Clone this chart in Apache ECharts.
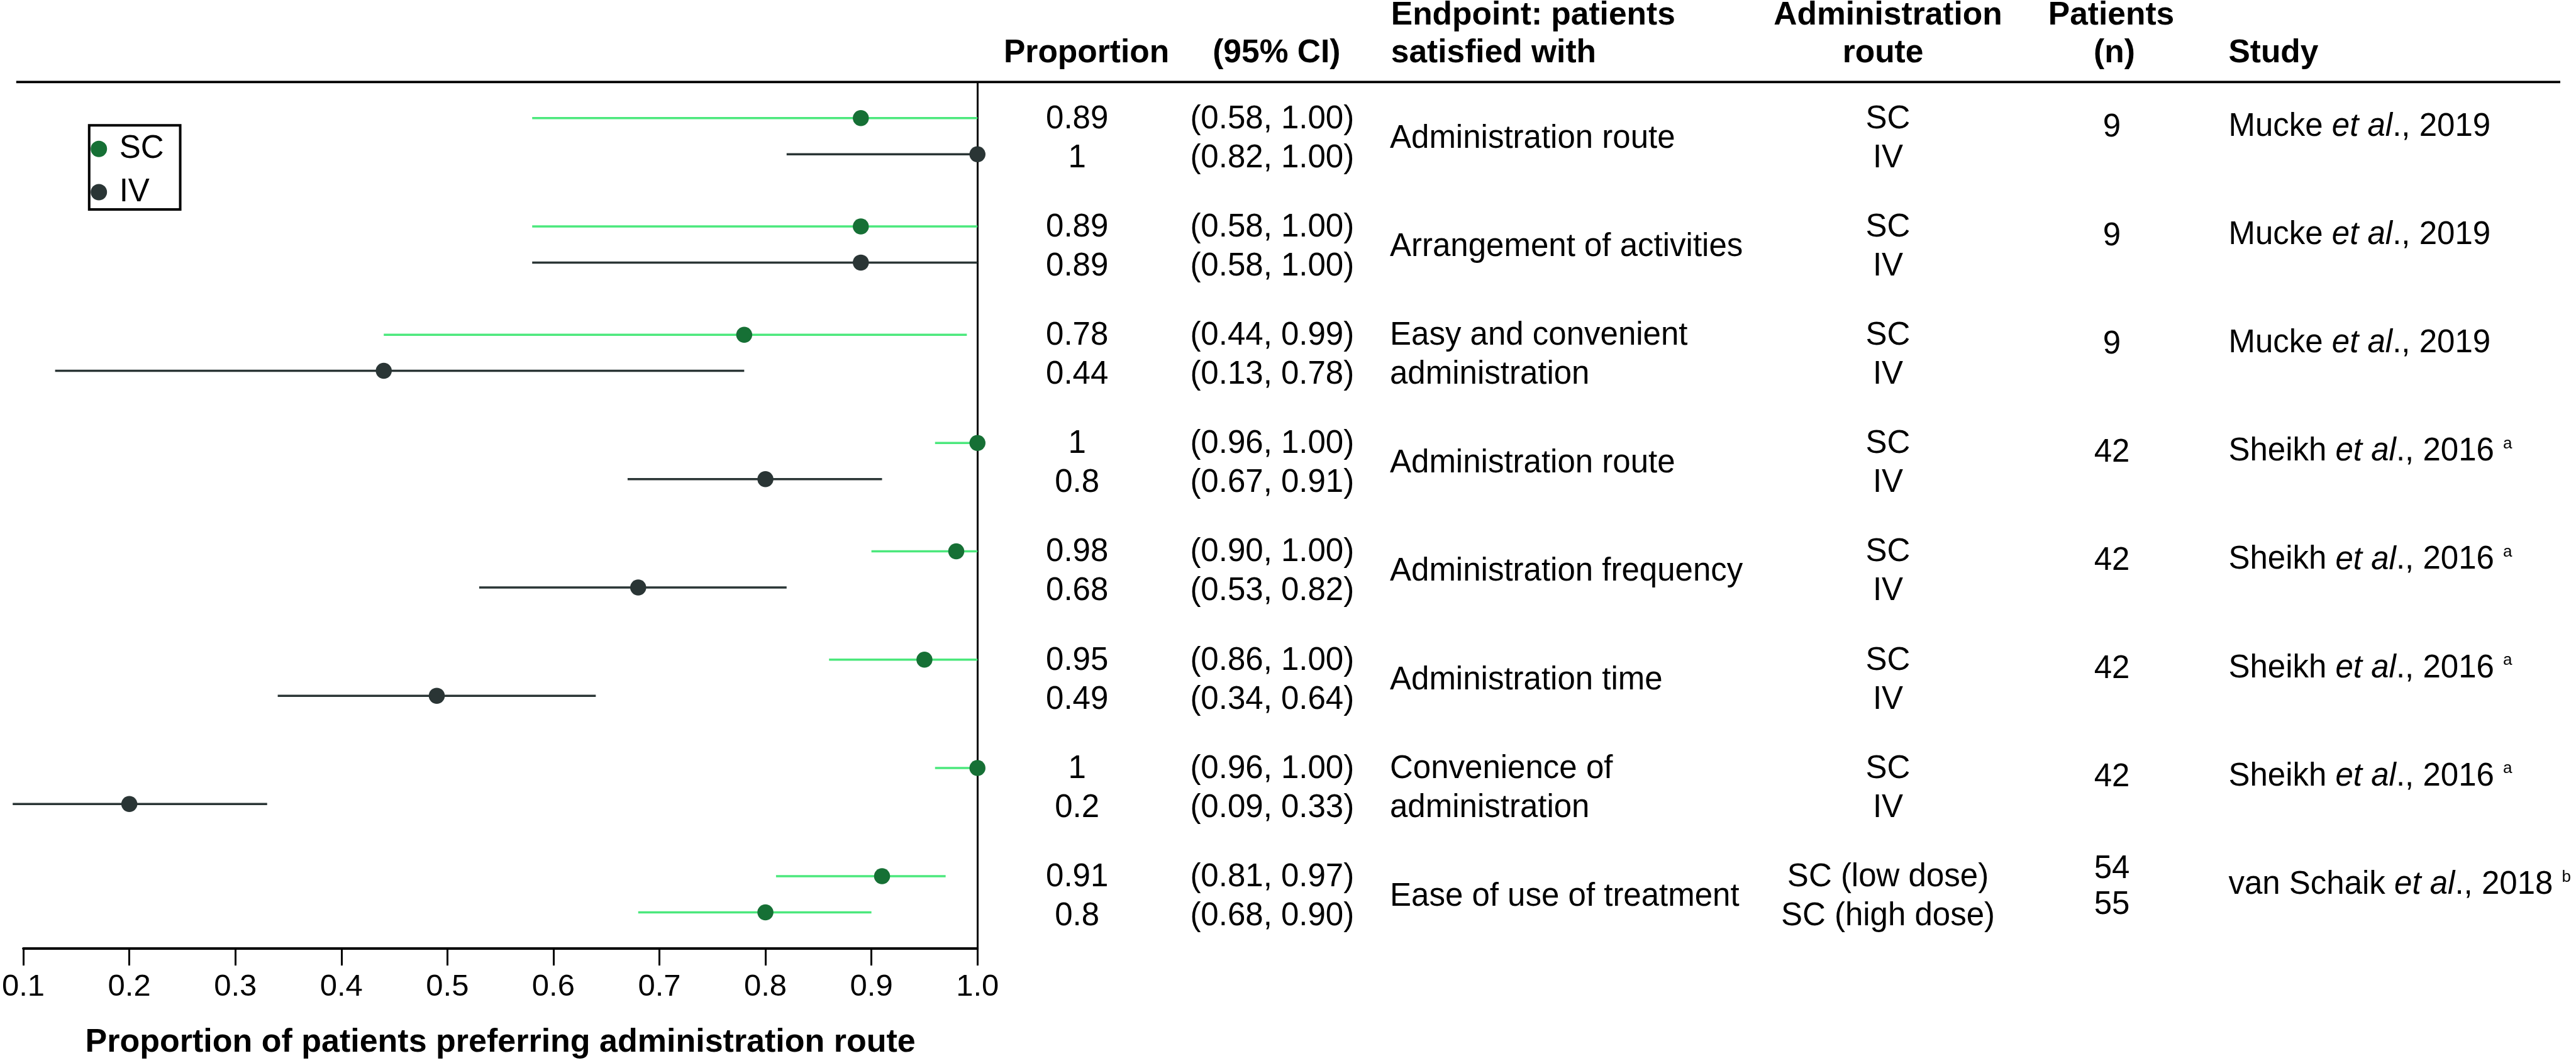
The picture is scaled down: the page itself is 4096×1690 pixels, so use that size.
<!DOCTYPE html>
<html><head><meta charset="utf-8">
<script src="https://cdn.jsdelivr.net/npm/echarts/dist/echarts.min.js"></script>
<style>html,body{margin:0;padding:0;background:#fff}#c{width:4096px;height:1690px}</style>
</head><body><div id="c"></div>
<script>
// ---------------- DATA ----------------
const endpoints = ['Administration route', 'Arrangement of activities', 'Easy and convenient\nadministration',
  'Administration route', 'Administration frequency', 'Administration time', 'Convenience of\nadministration',
  'Ease of use of treatment'];
const rowGroup = [0,0,1,1,2,2,3,3,4,4,5,5,6,6,7,7];
const rowSub   = [0,1,0,1,0,1,0,1,0,1,0,1,0,1,0,1];
const rowArm   = ['SC','IV','SC','IV','SC','IV','SC','IV','SC','IV','SC','IV','SC','IV','SC','SC'];
const rowRoute = ['SC','IV','SC','IV','SC','IV','SC','IV','SC','IV','SC','IV','SC','IV','SC (low dose)','SC (high dose)'];
const rowProp  = [0.89,1,0.89,0.89,0.78,0.44,1,0.8,0.98,0.68,0.95,0.49,1,0.2,0.91,0.8];
const rowLow   = [0.58,0.82,0.58,0.58,0.44,0.13,0.96,0.67,0.90,0.53,0.86,0.34,0.96,0.09,0.81,0.68];
const rowHigh  = [1.00,1.00,1.00,1.00,0.99,0.78,1.00,0.91,1.00,0.82,1.00,0.64,1.00,0.33,0.97,0.90];
const patients = [['9'],['9'],['9'],['42'],['42'],['42'],['42'],['54','55']];
const studyAuthor = ['Mucke','Mucke','Mucke','Sheikh','Sheikh','Sheikh','Sheikh','van Schaik'];
const studyYear = ['2019','2019','2019','2016','2016','2016','2016','2018'];
const studyNote = ['','','','a','a','a','a','b'];
const headerText = ['Proportion','(95% CI)','Endpoint: patients','satisfied with','Administration','route','Patients','(n)','Study'];
const armNames = ['SC','IV'];
const axisTitle = 'Proportion of patients preferring administration route';

// ---------------- LAYOUT / STYLE ----------------
const FONT = '"Liberation Sans", Arial, Helvetica, sans-serif';
const W = 4096, H = 1690;
const G_TOP = 130.4, G_BOT = 1507.9, X_L = 36.7, X_R = 1554.2;
const COL = {prop:1712.7, ci:2022.8, end:2210, route:3002, pat:3358, study:3543.4};
const headerPos = [[1727.6,85,'center'],[2029.8,85,'center'],[2211.8,25,'left'],[2211.8,85,'left'],
  [3002,25,'center'],[2994,85,'center'],[3357,25,'center'],[3362,85,'center'],[3543.4,85,'left']];
const colors = {SC:{pt:'#167035', line:'#4be87c'}, IV:{pt:'#2a3535', line:'#2a3535'}};
const TXT = 51;

const rowY = i => 3*rowGroup[i] + rowSub[i];

function txt(x, y, text, align, extra) {
  return {type:'text', x:x, y:y, style:Object.assign({text:text, fill:'#000', fontSize:TXT, fontFamily:FONT,
    align:align, textAlign:align, verticalAlign:'middle', textVerticalAlign:'middle'}, extra||{})};
}

const series = [];
armNames.forEach(arm => {
  const idx = rowArm.map((a,i)=>a===arm?i:-1).filter(i=>i>=0);
  series.push({
    name: arm+' CI', type:'custom', xAxisIndex:0, yAxisIndex:0, z:3, clip:false,
    data: idx.map(i => [rowLow[i], rowHigh[i], rowY(i)]),
    encode:{x:[0,1], y:2},
    renderItem:(p, api) => {
      const a = api.coord([api.value(0), api.value(2)]);
      const b = api.coord([api.value(1), api.value(2)]);
      return {type:'line', shape:{x1:a[0], y1:a[1], x2:b[0], y2:b[1]}, style:{stroke:colors[arm].line, lineWidth:3.5}};
    }
  });
});
armNames.forEach(arm => {
  const idx = rowArm.map((a,i)=>a===arm?i:-1).filter(i=>i>=0);
  series.push({
    name: arm, type:'scatter', xAxisIndex:0, yAxisIndex:0, z:5, clip:false,
    symbol:'circle', symbolSize:25.5, itemStyle:{color:colors[arm].pt, opacity:1},
    data: idx.map(i => [rowProp[i], rowY(i)])
  });
});
series.push({
  name:'table', type:'custom', xAxisIndex:1, yAxisIndex:1, clip:false, z:4,
  data: endpoints.map((e,g)=>[0, 3*g]),
  encode:{x:0, y:1},
  renderItem:(p, api) => {
    const g = p.dataIndex;
    const yOf = v => api.coord([0, v])[1];
    const unit = api.size([0,1])[1];
    const ch = [];
    rowGroup.forEach((gg, r) => {
      if (gg !== g) return;
      const y = yOf(3*g + (rowSub[r] ? 1.11 : 0.03));
      ch.push(txt(COL.prop, y, String(rowProp[r]), 'center'));
      ch.push(txt(COL.ci, y, '(' + rowLow[r].toFixed(2) + ', ' + rowHigh[r].toFixed(2) + ')', 'center'));
      ch.push(txt(COL.route, y, rowRoute[r], 'center'));
    });
    ch.push(txt(COL.end, yOf(3*g + 0.57), endpoints[g], 'left', {lineHeight: 1.08*unit}));
    const pts = patients[g];
    if (pts.length === 1) ch.push(txt(COL.pat, yOf(3*g + 0.27), pts[0], 'center'));
    else pts.forEach((v,s) => ch.push(txt(COL.pat, yOf(3*g + s - 0.2), v, 'center')));
    let st = '{n|' + studyAuthor[g] + ' }{i|et al}{n|., ' + studyYear[g] + '}';
    if (studyNote[g]) st += '{n| }{s|' + studyNote[g] + '}';
    ch.push(txt(COL.study, yOf(3*g + 0.24), st, 'left', {rich:{
      n:{fontSize:TXT, fontFamily:FONT, fill:'#000', lineHeight:TXT},
      i:{fontSize:TXT, fontFamily:FONT, fill:'#000', fontStyle:'italic', lineHeight:TXT},
      s:{fontSize:26, fontFamily:FONT, fill:'#000', lineHeight:35, verticalAlign:'top'}
    }}));
    return {type:'group', children:ch};
  }
});

const graphics = [{type:'line', z:10, shape:{x1:25.8, y1:G_TOP, x2:4071, y2:G_TOP}, style:{stroke:'#000', lineWidth:3.9}}];
headerText.forEach((t,i) => {
  const p = headerPos[i];
  graphics.push(Object.assign(txt(p[0], p[1], t, p[2], {fontWeight:'bold', fontSize:51.5}), {z:10}));
});

const chart = echarts.init(document.getElementById('c'), null, {renderer:'canvas', width:W, height:H});
chart.setOption({
  animation:false,
  backgroundColor:'#fff',
  grid:[{left:X_L, right:W-X_R, top:G_TOP, bottom:H-G_BOT}, {left:0, right:0, top:G_TOP, bottom:H-G_BOT}],
  xAxis:[{type:'value', gridIndex:0, min:0.1, max:1.0, interval:0.1,
      splitLine:{show:false},
      axisLine:{show:true, onZero:false, lineStyle:{color:'#000', width:4}},
      axisTick:{show:true, length:27, lineStyle:{color:'#000', width:3}},
      axisLabel:{fontSize:49, lineHeight:49, color:'#000', fontFamily:FONT, margin:37, formatter:v=>v.toFixed(1)},
      name:axisTitle, nameLocation:'middle', nameGap:124,
      nameTextStyle:{fontSize:52, lineHeight:52, fontWeight:'bold', color:'#000', fontFamily:FONT}},
    {type:'value', gridIndex:1, min:0, max:W, show:false}],
  yAxis:[{type:'value', gridIndex:0, min:-1, max:23, inverse:true, position:'right',
      axisLine:{show:true, onZero:false, lineStyle:{color:'#000', width:3}},
      axisTick:{show:false}, axisLabel:{show:false}, splitLine:{show:false}},
    {type:'value', gridIndex:1, min:-1, max:23, inverse:true, show:false}],
  legend:{data:armNames, orient:'vertical', left:141.8, top:199.2, padding:[12,26,2,2.4],
    itemWidth:55, itemHeight:26, itemGap:17.8, icon:'circle', borderColor:'#000', borderWidth:4,
    backgroundColor:'#fff', selectedMode:false,
    textStyle:{fontSize:51, lineHeight:51, color:'#000', fontFamily:FONT}},
  graphic:graphics,
  series:series
});
</script>
</body></html>
